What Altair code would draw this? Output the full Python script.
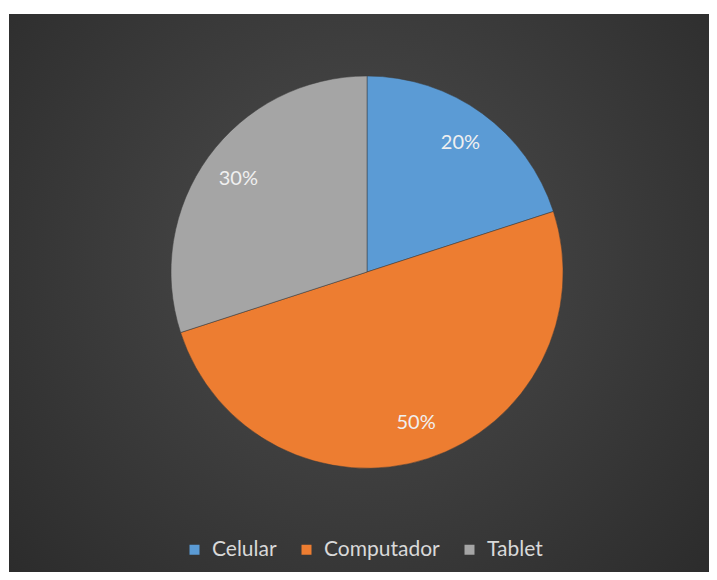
import altair as alt
import pandas as pd

categories = ["Celular", "Computador", "Tablet"]
values = [20, 50, 30]
labels = ["20%", "50%", "30%"]
colors = ["#5B9BD5", "#ED7D31", "#A5A5A5"]

df = pd.DataFrame({"cat": categories, "val": values, "lab": labels, "ord": [0, 1, 2]})

W, H = 700, 558
CX, CY, R = 358, 258, 196

bg = alt.Chart(pd.DataFrame({"a": [0]})).mark_rect(
    fill={"gradient": "radial", "x1": 0.5, "y1": 0.45, "r1": 0, "x2": 0.5, "y2": 0.45, "r2": 0.75,
          "stops": [{"offset": 0, "color": "#4d4d4d"}, {"offset": 1, "color": "#282828"}]},
).encode(x=alt.value(0), x2=alt.value(W), y=alt.value(0), y2=alt.value(H))

base = alt.Chart(df).encode(
    theta=alt.Theta("val:Q", stack=True),
    order=alt.Order("ord:Q"),
)

pie = base.mark_arc(stroke="#3a3a3a", strokeWidth=0.5).encode(
    x=alt.value(CX), y=alt.value(CY), radius=alt.value(R),
    color=alt.Color("cat:N", scale=alt.Scale(domain=categories, range=colors),
                    legend=alt.Legend(title=None, orient="none", direction="horizontal",
                                      legendX=175, legendY=525, symbolType="square",
                                      symbolSize=100, symbolStrokeWidth=0,
                                      labelColor="#d9d9d9", labelFontSize=21,
                                      labelFont="Lato", columnPadding=19, labelOffset=7)),
)

text = base.mark_text(font="Lato", fontSize=20, color="#f0f0f0").encode(
    x=alt.value(CX), y=alt.value(CY), radius=alt.value(159),
    text="lab:N",
)

chart = alt.layer(bg, pie, text).properties(
    width=W, height=H,
    padding={"top": 6, "left": 1, "right": 0, "bottom": 0},
    background="white",
).configure_view(stroke=None)

chart.save("out.html", embed_options={"renderer": "svg", "actions": False})
